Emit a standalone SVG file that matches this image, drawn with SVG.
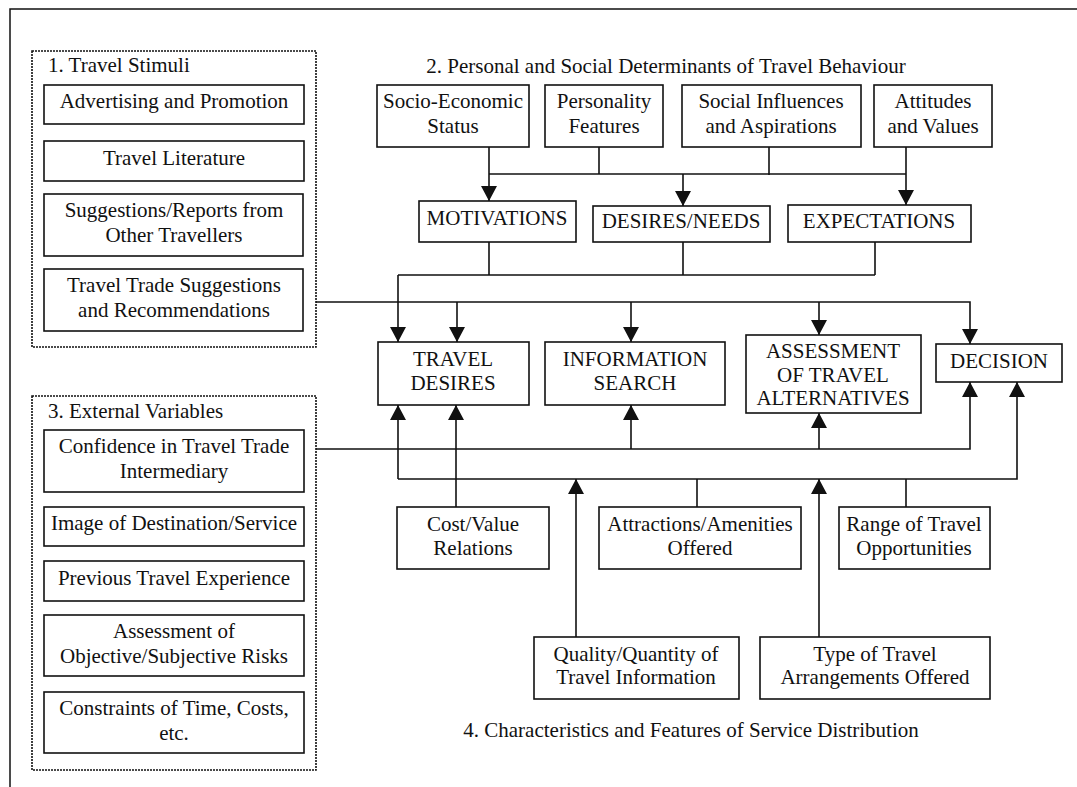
<svg xmlns="http://www.w3.org/2000/svg" width="1077" height="787" viewBox="0 0 1077 787">
  <style>
    text { font-family: "Liberation Serif", "Times New Roman", serif; font-size: 21px; fill: #111; }
    .c { text-anchor: middle; }
    .box { fill: #fff; stroke: #111; stroke-width: 1.6; }
    .group { fill: none; stroke: #111; stroke-width: 1.6; stroke-dasharray: 2 1; }
    .frame { fill: none; stroke: #111; stroke-width: 1.5; }
    .conn path { fill: none; stroke: #111; stroke-width: 1.6; }
    .arr { marker-end: url(#head); }
  </style>
  <defs>
    <marker id="head" viewBox="0 0 15 16" markerWidth="15" markerHeight="16" refX="15" refY="8" orient="auto" markerUnits="userSpaceOnUse">
      <path d="M0,0 L15,8 L0,16 Z" fill="#111"/>
    </marker>
  </defs>
  <rect width="1077" height="787" fill="#fff"/>
  <!-- outer frame, open to the right and bottom -->
  <rect class="frame" x="10" y="9" width="1100" height="820"/>

  <!-- section headings -->
  <text x="48" y="72">1. Travel Stimuli</text>
  <text class="c" x="666" y="73">2. Personal and Social Determinants of Travel Behaviour</text>
  <text x="48" y="418">3. External Variables</text>
  <text class="c" x="691" y="737">4. Characteristics and Features of Service Distribution</text>

  <!-- connectors -->
  <g id="connectors" class="conn">
    <path class="arr" d="M489,147 V201"/>
    <path d="M489,174 H906"/>
    <path d="M599,147 V174"/>
    <path d="M769,147 V175"/>
    <path class="arr" d="M906,147 V205"/>
    <path class="arr" d="M683,174 V206"/>
    <path d="M489,242 V275 M683,242 V275 M875,242 V275 M398,275 H875"/>
    <path class="arr" d="M398,275 V342"/>
    <path class="arr" d="M316,302 H970 V344"/>
    <path class="arr" d="M457,302 V342"/>
    <path class="arr" d="M631,302 V342"/>
    <path class="arr" d="M819,302 V335"/>
    <path class="arr" d="M316,449 H970 V382"/>
    <path class="arr" d="M631,449 V405"/>
    <path class="arr" d="M819,449 V413"/>
    <path class="arr" d="M398,479 V405"/>
    <path class="arr" d="M398,479 H1017 V382"/>
    <path class="arr" d="M456,507 V405"/>
    <path class="arr" d="M576,637 V479"/>
    <path d="M697,507 V479"/>
    <path class="arr" d="M819,637 V479"/>
    <path d="M906,507 V479"/>
  </g>

  <!-- 1. travel stimuli -->
  <rect class="group" x="32" y="51" width="284" height="296"/>
  <g id="advertising"><rect class="box" x="44" y="85" width="260" height="39"/><text class="c" x="174" y="108">Advertising and Promotion</text></g>
  <g id="literature"><rect class="box" x="44" y="141" width="260" height="40"/><text class="c" x="174" y="165">Travel Literature</text></g>
  <g id="suggestions"><rect class="box" x="44" y="194" width="259" height="62"/><text class="c" x="174" y="217">Suggestions/Reports from</text><text class="c" x="174" y="242">Other Travellers</text></g>
  <g id="trade"><rect class="box" x="44" y="269" width="259" height="62"/><text class="c" x="174" y="292">Travel Trade Suggestions</text><text class="c" x="174" y="317">and Recommendations</text></g>

  <!-- 3. external variables -->
  <rect class="group" x="32" y="396" width="284" height="374"/>
  <g id="confidence"><rect class="box" x="44" y="430" width="260" height="62"/><text class="c" x="174" y="453">Confidence in Travel Trade</text><text class="c" x="174" y="478">Intermediary</text></g>
  <g id="image"><rect class="box" x="44" y="507" width="260" height="39"/><text class="c" x="174" y="530">Image of Destination/Service</text></g>
  <g id="experience"><rect class="box" x="44" y="561" width="260" height="40"/><text class="c" x="174" y="585">Previous Travel Experience</text></g>
  <g id="risks"><rect class="box" x="44" y="615" width="260" height="61"/><text class="c" x="174" y="638">Assessment of</text><text class="c" x="174" y="663">Objective/Subjective Risks</text></g>
  <g id="constraints"><rect class="box" x="44" y="692" width="260" height="61"/><text class="c" x="174" y="715">Constraints of Time, Costs,</text><text class="c" x="174" y="740">etc.</text></g>

  <!-- 2. personal and social determinants -->
  <g id="socio"><rect class="box" x="377" y="85" width="152" height="62"/><text class="c" x="453" y="108">Socio-Economic</text><text class="c" x="453" y="133">Status</text></g>
  <g id="personality"><rect class="box" x="545" y="85" width="118" height="62"/><text class="c" x="604" y="108">Personality</text><text class="c" x="604" y="133">Features</text></g>
  <g id="social"><rect class="box" x="682" y="85" width="179" height="62"/><text class="c" x="771" y="108">Social Influences</text><text class="c" x="771" y="133">and Aspirations</text></g>
  <g id="attitudes"><rect class="box" x="874" y="85" width="118" height="62"/><text class="c" x="933" y="108">Attitudes</text><text class="c" x="933" y="133">and Values</text></g>

  <g id="motivations"><rect class="box" x="419" y="201" width="157" height="41"/><text class="c" x="497" y="225">MOTIVATIONS</text></g>
  <g id="desires-needs"><rect class="box" x="593" y="206" width="177" height="36"/><text class="c" x="681" y="228">DESIRES/NEEDS</text></g>
  <g id="expectations"><rect class="box" x="788" y="205" width="183" height="37"/><text class="c" x="879" y="228">EXPECTATIONS</text></g>

  <!-- decision process -->
  <g id="travel-desires"><rect class="box" x="378" y="342" width="151" height="63"/><text class="c" x="453" y="366">TRAVEL</text><text class="c" x="453" y="390">DESIRES</text></g>
  <g id="information-search"><rect class="box" x="545" y="342" width="180" height="63"/><text class="c" x="635" y="366">INFORMATION</text><text class="c" x="635" y="390">SEARCH</text></g>
  <g id="assessment"><rect class="box" x="746" y="335" width="175" height="78"/><text class="c" x="833" y="358">ASSESSMENT</text><text class="c" x="833" y="382">OF TRAVEL</text><text class="c" x="833" y="405">ALTERNATIVES</text></g>
  <g id="decision"><rect class="box" x="936" y="344" width="126" height="38"/><text class="c" x="999" y="368">DECISION</text></g>

  <!-- 4. service distribution -->
  <g id="cost-value"><rect class="box" x="397" y="507" width="152" height="62"/><text class="c" x="473" y="531">Cost/Value</text><text class="c" x="473" y="555">Relations</text></g>
  <g id="attractions"><rect class="box" x="599" y="507" width="202" height="62"/><text class="c" x="700" y="531">Attractions/Amenities</text><text class="c" x="700" y="555">Offered</text></g>
  <g id="range"><rect class="box" x="839" y="507" width="151" height="62"/><text class="c" x="914" y="531">Range of Travel</text><text class="c" x="914" y="555">Opportunities</text></g>
  <g id="quality"><rect class="box" x="534" y="637" width="205" height="62"/><text class="c" x="636" y="661">Quality/Quantity of</text><text class="c" x="636" y="684">Travel Information</text></g>
  <g id="arrangements"><rect class="box" x="760" y="637" width="230" height="62"/><text class="c" x="875" y="661">Type of Travel</text><text class="c" x="875" y="684">Arrangements Offered</text></g>
</svg>
